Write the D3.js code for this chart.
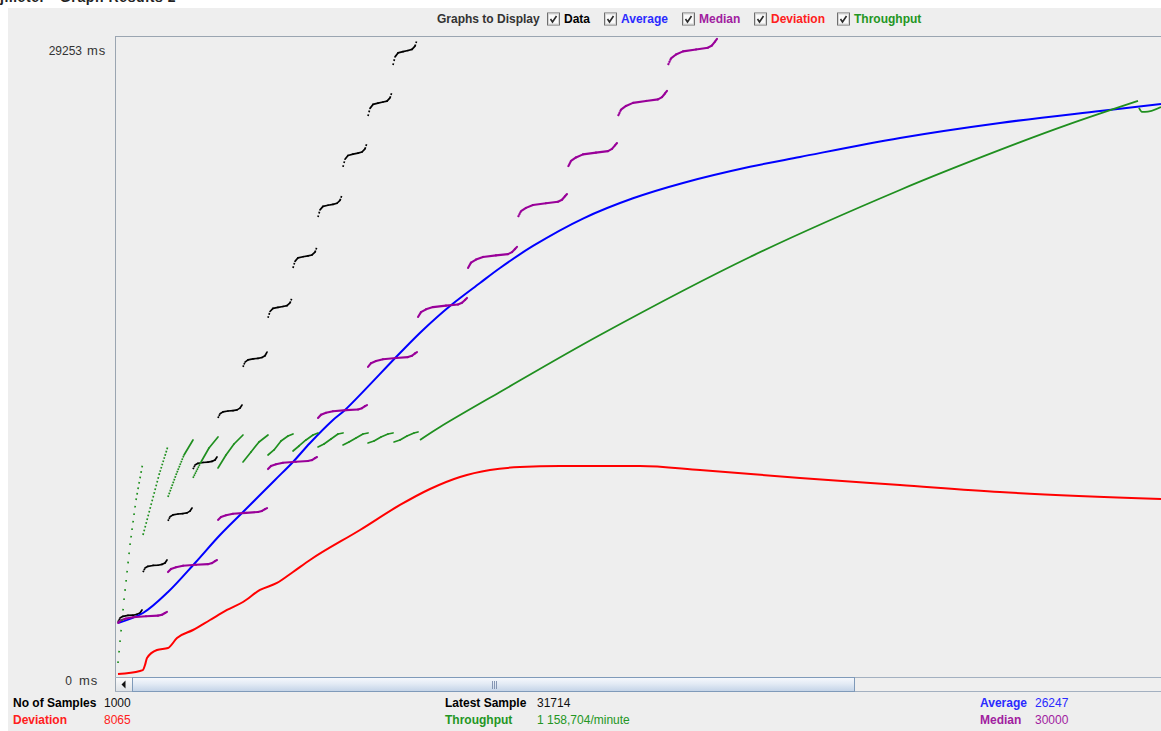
<!DOCTYPE html>
<html>
<head>
<meta charset="utf-8">
<script src="https://cdn.jsdelivr.net/npm/d3@7"></script>
<style>
  html, body { margin: 0; padding: 0; background: #fff; }
  svg { display: block; font-family: "Liberation Sans", Arial, sans-serif; }
</style>
</head>
<body>
<svg id="chart" width="1161" height="731"></svg>
<script>
// ---- values -------------------------------------------------------------
const yMaxMs = 29253;
const sampleSpan = 1043;
const yTickValues = [yMaxMs, 0];
const yTickNumbers = ["29253", "0"];
const yTickUnit = "ms";
const seriesNames = ["Data", "Average", "Median", "Deviation", "Throughput"];

// Response time of each sample, grouped in bursts of 25 samples
const dataClusterStarts = [0, 25, 50, 75, 100, 125, 150, 175, 200, 225, 250, 275];
const dataOffsets = [0, 2, 5, 10, 15, 19, 22, 24];
const dataClusters = [
  [2510, 2690, 2770, 2810, 2820, 2860, 2920, 3060],
  [4790, 4970, 5050, 5090, 5100, 5140, 5200, 5340],
  [7120, 7310, 7400, 7440, 7460, 7490, 7570, 7710],
  [9490, 9670, 9750, 9790, 9810, 9840, 9900, 10040],
  [11820, 12010, 12100, 12140, 12160, 12190, 12270, 12410],
  [14150, 14370, 14470, 14520, 14540, 14580, 14660, 14830],
  [16390, 16680, 16820, 16870, 16910, 16950, 17070, 17300],
  [18670, 18970, 19130, 19180, 19220, 19260, 19390, 19630],
  [20990, 21320, 21480, 21530, 21570, 21620, 21750, 22000],
  [23280, 23630, 23800, 23860, 23910, 23960, 24100, 24370],
  [25600, 25950, 26130, 26190, 26240, 26280, 26430, 26700],
  [27930, 28300, 28480, 28540, 28590, 28640, 28790, 29070]
];

// Running median, one plateau every 50 samples
const medianClusterStarts = [0, 50, 100, 150, 200, 250, 300, 350, 400, 450, 500, 550];
const medianOffsets = [0, 3, 8, 15, 28, 40, 44, 47, 49];
const medianClusters = [
  [2470, 2590, 2670, 2730, 2770, 2800, 2840, 2920, 2970],
  [4790, 4930, 5010, 5080, 5120, 5150, 5200, 5290, 5340],
  [7170, 7300, 7380, 7450, 7490, 7530, 7580, 7660, 7710],
  [9490, 9630, 9710, 9780, 9820, 9860, 9900, 9990, 10040],
  [11820, 11970, 12060, 12130, 12180, 12210, 12270, 12360, 12410],
  [14150, 14320, 14420, 14500, 14560, 14600, 14660, 14770, 14830],
  [16430, 16650, 16780, 16880, 16950, 17000, 17080, 17210, 17300],
  [18670, 18910, 19050, 19170, 19240, 19300, 19390, 19530, 19630],
  [20990, 21260, 21410, 21540, 21620, 21690, 21780, 21940, 22040],
  [23280, 23550, 23710, 23850, 23930, 24000, 24100, 24260, 24370],
  [25600, 25890, 26060, 26200, 26290, 26360, 26460, 26630, 26750],
  [27930, 28230, 28410, 28550, 28640, 28720, 28820, 29000, 29120]
];

// Running average
const averageSamples = [0, 25, 50, 77, 102, 125, 157, 175, 192, 215, 227, 282, 305, 332, 362, 382, 415, 465, 515, 565, 632, 682, 782, 882, 982, 1043];
const averageValues  = [2465, 2921, 3879, 5203, 6481, 7531, 8991, 9813, 10680, 11729, 12186, 14787, 15837, 16932, 17982, 18667, 19671, 20921, 21846, 22546, 23283, 23733, 24600, 25285, 25830, 26152];

// Standard deviation
const deviationSamples = [0, 22, 25, 27, 29, 39, 50, 59, 75, 92, 109, 125, 142, 159, 175, 192, 242, 282, 312, 342, 372, 402, 442, 522, 582, 682, 782, 882, 1043];
const deviationValues  = [137, 274, 320, 548, 867, 1232, 1324, 1780, 2145, 2601, 3058, 3423, 3971, 4290, 4792, 5340, 6709, 7850, 8580, 9128, 9447, 9584, 9630, 9630, 9447, 9082, 8763, 8443, 8124];

// Throughput, as [sample, value] runs between resets
const throughputSegments = [
  [[0, 639], [6, 3514], [12, 6024], [18, 8078], [25, 9813]],
  [[25, 6481], [33, 7850], [41, 9219], [50, 10543]],
  [[50, 8215], [58, 9219], [66, 10132], [75, 10817]],
  [[75, 9082], [83, 9813], [91, 10452], [100, 10954]],
  [[100, 9539], [108, 10132], [116, 10634], [125, 11045]],
  [[125, 9813], [133, 10269], [141, 10726], [150, 11045]],
  [[150, 10132], [156, 10361], [163, 10771], [170, 10999], [175, 11091]],
  [[175, 10315], [181, 10543], [188, 10817], [195, 11045], [200, 11136]],
  [[200, 10497], [206, 10634], [213, 10862], [220, 11091], [225, 11136]],
  [[225, 10589], [231, 10726], [238, 10908], [245, 11091], [250, 11136]],
  [[250, 10680], [256, 10771], [263, 10954], [270, 11091], [275, 11136]],
  [[276, 10726], [282, 10817], [289, 10999], [296, 11136], [300, 11182]]
];
const throughputTrend = [[302, 10817], [322, 11410], [382, 13007], [482, 15609], [632, 19169], [782, 22227], [882, 24053], [952, 25239], [1020, 26289]];
const throughputTail = [[1021, 25969], [1024, 25787], [1027, 25787], [1043, 26015]];

// Summary figures
const statsLeft  = [["No of Samples", "1000"], ["Deviation", "8065"]];
const statsMid   = [["Latest Sample", "31714"], ["Throughput", "1 158,704/minute"]];
const statsRight = [["Average", "26247"], ["Median", "30000"]];

// ---- styles -------------------------------------------------------------
const colors = {
  Data: "#000000", Average: "#0000ff", Median: "#990099",
  Deviation: "#ff0000", Throughput: "#1f8f1f"
};
const textColors = {
  Data: "#000000", Average: "#2a2aff", Median: "#a0209f",
  Deviation: "#ff2020", Throughput: "#239623"
};

const W = 1161, H = 731;
const plot = { left: 115, top: 36, right: 1161, bottom: 677 };

const svg = d3.select("#chart");
const defs = svg.append("defs");

// page and panel
svg.append("rect").attr("width", W).attr("height", H).attr("fill", "#ffffff");
svg.append("text").attr("x", 0).attr("y", 2)
  .attr("font-size", 14).attr("font-weight", "bold").attr("fill", "#222")
  .attr("letter-spacing", 0.6)
  .text("jmeter - Graph Results 2");
svg.append("rect").attr("x", 8).attr("y", 8).attr("width", W - 8).attr("height", H - 8).attr("fill", "#eeeeee");

// scales
const x = d3.scaleLinear().domain([0, sampleSpan]).range([118, 1161]);
const y = d3.scaleLinear().domain([0, yMaxMs]).range([plot.bottom, plot.top]);

// header: graphs to display
const header = svg.append("g").attr("font-size", 12).attr("font-weight", "bold");
header.append("text").attr("x", 437).attr("y", 22.5).attr("fill", "#333").text("Graphs to Display");
const boxX = [547, 604, 682, 754, 837];
seriesNames.forEach((name, i) => {
  const g = header.append("g").attr("transform", `translate(${boxX[i]},12.5)`);
  g.append("rect").attr("x", 0.5).attr("y", 0.5).attr("width", 12).attr("height", 12)
    .attr("fill", "#fafafa").attr("stroke", "#6f6f6f");
  g.append("rect").attr("x", 1.5).attr("y", 1.5).attr("width", 10).attr("height", 10)
    .attr("fill", "none").attr("stroke", "#d6d6d6");
  g.append("path").attr("d", "M3.5,6.5 L5.5,9.5 L9.5,3.5")
    .attr("fill", "none").attr("stroke", "#2a2a2a").attr("stroke-width", 1.6);
  g.append("text").attr("x", 17).attr("y", 10).attr("fill", textColors[name]).text(name);
});

// plot frame
defs.append("clipPath").attr("id", "plotClip")
  .append("rect").attr("x", plot.left + 1).attr("y", plot.top)
  .attr("width", plot.right - plot.left - 1).attr("height", plot.bottom - plot.top);
svg.append("line").attr("x1", plot.left + 0.5).attr("x2", plot.left + 0.5)
  .attr("y1", plot.top).attr("y2", 692).attr("stroke", "#9aa5b1");
svg.append("line").attr("x1", plot.left).attr("x2", plot.right)
  .attr("y1", plot.top + 0.5).attr("y2", plot.top + 0.5).attr("stroke", "#9aa5b1");

// y labels: value, then unit
const numRight = [82, 72];
const unitLeft = [87, 79];
const labelDy = [19, 8];
yTickValues.forEach((v, i) => {
  const ty = y(v) + labelDy[i];
  svg.append("text").attr("x", numRight[i]).attr("y", ty)
    .attr("text-anchor", "end").attr("font-size", 12).attr("fill", "#333")
    .text(yTickNumbers[i]);
  svg.append("text").attr("x", unitLeft[i]).attr("y", ty)
    .attr("font-size", 13).attr("letter-spacing", 1).attr("fill", "#333")
    .text(yTickUnit);
});

const marks = svg.append("g").attr("clip-path", "url(#plotClip)");

// straight pieces between read points; pieces that climb several pixels
// per sample break into separate dots
function drawSampled(g, pts, color, w) {
  for (let i = 1; i < pts.length; i++) {
    const [s0, v0] = pts[i - 1], [s1, v1] = pts[i];
    const x0 = x(s0), y0 = y(v0), x1 = x(s1), y1 = y(v1);
    const per = Math.hypot(x1 - x0, y1 - y0) / Math.max(1, s1 - s0);
    const ln = g.append("line")
      .attr("x1", x0).attr("y1", y0).attr("x2", x1).attr("y2", y1)
      .attr("stroke", color).attr("stroke-width", w);
    if (per > 2.2) {
      ln.attr("stroke-dasharray", `${w} ${per - w}`).attr("stroke-linecap", "butt");
    } else {
      ln.attr("stroke-linecap", "round");
    }
  }
}

const smooth = d3.line().x(d => x(d[0])).y(d => y(d[1])).curve(d3.curveMonotoneX);
const rounded = d3.line().x(d => x(d[0])).y(d => y(d[1])).curve(d3.curveCatmullRom.alpha(0.5));

// Data
const gData = marks.append("g");
dataClusters.forEach((vals, k) => {
  const pts = vals.map((v, j) => [dataClusterStarts[k] + dataOffsets[j], v]);
  drawSampled(gData, pts, colors.Data, 1.7);
});

// Average
marks.append("path")
  .datum(averageSamples.map((s, i) => [s, averageValues[i]]))
  .attr("d", rounded).attr("fill", "none")
  .attr("stroke", colors.Average).attr("stroke-width", 2);

// Median
const gMed = marks.append("g");
medianClusters.forEach((vals, k) => {
  const pts = vals.map((v, j) => [medianClusterStarts[k] + medianOffsets[j], v]);
  drawSampled(gMed, pts, colors.Median, 2.1);
});

// Deviation
marks.append("path")
  .datum(deviationSamples.map((s, i) => [s, deviationValues[i]]))
  .attr("d", smooth).attr("fill", "none")
  .attr("stroke", colors.Deviation).attr("stroke-width", 2);

// Throughput
const gThr = marks.append("g");
throughputSegments.forEach(seg => drawSampled(gThr, seg, colors.Throughput, 1.7));
gThr.append("path").datum(throughputTrend).attr("d", rounded).attr("fill", "none")
  .attr("stroke", colors.Throughput).attr("stroke-width", 1.8);
gThr.append("path").datum(throughputTail).attr("d", smooth).attr("fill", "none")
  .attr("stroke", colors.Throughput).attr("stroke-width", 1.8);

// horizontal scrollbar under the plot
const sb = svg.append("g");
const thumbGrad = defs.append("linearGradient").attr("id", "thumbGrad")
  .attr("x1", 0).attr("y1", 0).attr("x2", 0).attr("y2", 1);
thumbGrad.append("stop").attr("offset", "0%").attr("stop-color", "#f7f9fd");
thumbGrad.append("stop").attr("offset", "45%").attr("stop-color", "#e3ebf5");
thumbGrad.append("stop").attr("offset", "100%").attr("stop-color", "#c3d3e7");
const btnGrad = defs.append("linearGradient").attr("id", "btnGrad")
  .attr("x1", 0).attr("y1", 0).attr("x2", 0).attr("y2", 1);
btnGrad.append("stop").attr("offset", "0%").attr("stop-color", "#fbfbfb");
btnGrad.append("stop").attr("offset", "100%").attr("stop-color", "#dfe3e8");

sb.append("rect").attr("x", plot.left + 1).attr("y", 677).attr("width", W - plot.left - 1).attr("height", 15)
  .attr("fill", "#efefef");
sb.append("line").attr("x1", plot.left).attr("x2", W).attr("y1", 677.5).attr("y2", 677.5).attr("stroke", "#a3b0c0");
sb.append("line").attr("x1", plot.left).attr("x2", W).attr("y1", 691.5).attr("y2", 691.5).attr("stroke", "#a3b0c0");
sb.append("rect").attr("x", 116).attr("y", 678).attr("width", 16).attr("height", 13).attr("fill", "url(#btnGrad)");
sb.append("path").attr("d", "M121.5,684.5 L125.5,680.5 L125.5,688.5 Z").attr("fill", "#111");
sb.append("rect").attr("x", 132.5).attr("y", 677.5).attr("width", 722).attr("height", 14)
  .attr("fill", "url(#thumbGrad)").attr("stroke", "#7f9ab9");
[492.5, 494.5, 496.5].forEach(gx => {
  sb.append("line").attr("x1", gx).attr("x2", gx).attr("y1", 681).attr("y2", 689)
    .attr("stroke", "#8596b3");
});

// summary lines
const stats = svg.append("g").attr("font-size", 12);
const rowY = [707, 724];
function statRow(list, lx, vx) {
  list.forEach(([label, value], i) => {
    const key = seriesNames.includes(label) ? label : null;
    const fill = key ? textColors[key] : "#000";
    stats.append("text").attr("x", lx).attr("y", rowY[i]).attr("font-weight", "bold")
      .attr("fill", fill).text(label);
    stats.append("text").attr("x", vx).attr("y", rowY[i])
      .attr("fill", key ? fill : "#111").text(value);
  });
}
statRow(statsLeft, 13, 104);
statRow(statsMid, 445, 537);
statRow(statsRight, 980, 1035);
</script>
</body>
</html>
